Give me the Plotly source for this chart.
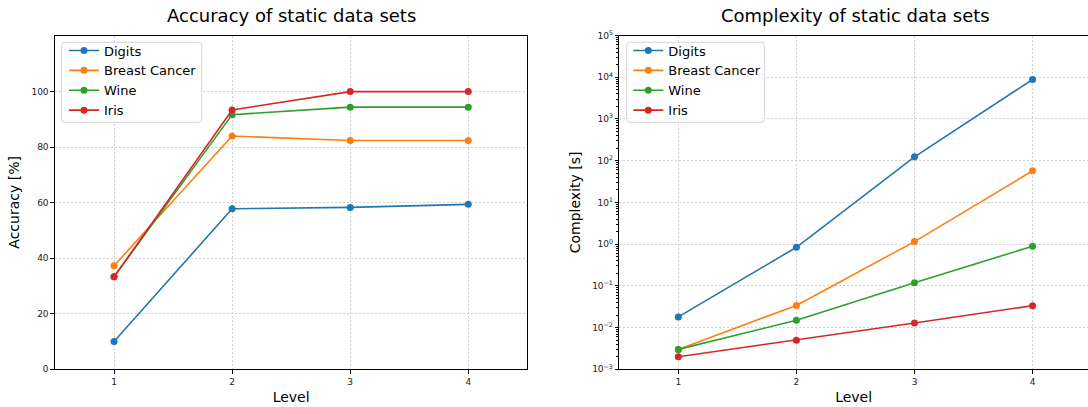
import plotly.graph_objects as go

# Levels of the model
levels = [1, 2, 3, 4]

# Accuracy [%] per data set
acc_digits = [10.0, 57.8, 58.3, 59.4]
acc_breast = [37.3, 84.0, 82.4, 82.4]
acc_wine = [33.3, 91.7, 94.4, 94.4]
acc_iris = [33.3, 93.4, 100.0, 100.0]

# Complexity [s] per data set
cx_digits = [0.018, 0.84, 124.0, 8800.0]
cx_breast = [0.003, 0.034, 1.15, 57.0]
cx_wine = [0.003, 0.015, 0.119, 0.89]
cx_iris = [0.002, 0.005, 0.0129, 0.0335]

names = ["Digits", "Breast Cancer", "Wine", "Iris"]
colors = ["#1f77b4", "#ff7f0e", "#2ca02c", "#d62728"]

acc_tick_vals = [0, 20, 40, 60, 80, 100]
cx_exponents = [-3, -2, -1, 0, 1, 2, 3, 4, 5]
cx_minor = [k * 10.0 ** e for e in cx_exponents[:-1] for k in range(2, 10)]

W, H = 1088, 407
FONT = "DejaVu Sans"

fig = go.Figure()

acc_series = [acc_digits, acc_breast, acc_wine, acc_iris]
cx_series = [cx_digits, cx_breast, cx_wine, cx_iris]

for name, color, ys in zip(names, colors, acc_series):
    fig.add_trace(go.Scatter(
        x=levels, y=ys, name=name, mode="lines+markers",
        line=dict(color=color, width=1.6),
        marker=dict(color=color, size=7),
        xaxis="x", yaxis="y", legend="legend",
    ))

for name, color, ys in zip(names, colors, cx_series):
    fig.add_trace(go.Scatter(
        x=levels, y=ys, name=name, mode="lines+markers",
        line=dict(color=color, width=1.6),
        marker=dict(color=color, size=7),
        xaxis="x2", yaxis="y2", legend="legend2",
    ))

# transparent carrier trace so the minor-tick axis is laid out
fig.add_trace(go.Scatter(
    x=levels, y=cx_digits, mode="markers", marker=dict(opacity=0),
    hoverinfo="skip", showlegend=False, xaxis="x2", yaxis="y3",
))

# pixel geometry of the two panels
y_bot, y_top = 369.3, 35.5
left_l, left_r = 55.0, 527.3
right_l = 619.3
px_per_level = (left_r - left_l) / 4.0
right_r_full = right_l + 4.0 * px_per_level
right_range_hi = 0.5 + (W - right_l) / px_per_level

ydom = [(H - y_bot) / H, (H - y_top) / H]

grid = dict(showgrid=True, gridcolor="#d0d0d0", gridwidth=0.8, griddash="2px,2px")
common_axis = dict(
    showline=True, linecolor="black", linewidth=1.2, automargin=False,
    ticks="outside", ticklen=3.5, tickwidth=1, tickcolor="black",
    tickfont=dict(family=FONT, size=9, color="#222"),
    zeroline=False, **grid,
)


def rounded_box(x0, y0, x1, y1, r=3):
    """SVG path of a rounded rectangle in pixel coordinates (y downward)."""
    X = lambda v: v / W
    Y = lambda v: (H - v) / H
    return (f"M {X(x0 + r)},{Y(y0)} L {X(x1 - r)},{Y(y0)} Q {X(x1)},{Y(y0)} {X(x1)},{Y(y0 + r)} "
            f"L {X(x1)},{Y(y1 - r)} Q {X(x1)},{Y(y1)} {X(x1 - r)},{Y(y1)} "
            f"L {X(x0 + r)},{Y(y1)} Q {X(x0)},{Y(y1)} {X(x0)},{Y(y1 - r)} "
            f"L {X(x0)},{Y(y0 + r)} Q {X(x0)},{Y(y0)} {X(x0 + r)},{Y(y0)} Z")


legend_boxes = [(61.7, 42.3, 201.7, 122.3), (626.7, 42.3, 764.3, 122.3)]
shapes = [dict(type="path", xref="paper", yref="paper", path=rounded_box(*b),
               fillcolor="rgba(255,255,255,0.85)", line=dict(color="#d6d6d6", width=1),
               layer="above") for b in legend_boxes]

legend_style = dict(xanchor="left", yanchor="top", bgcolor="rgba(0,0,0,0)", borderwidth=0,
                    font=dict(family=FONT, size=13), tracegroupgap=0)

fig.update_layout(
    width=W, height=H,
    margin=dict(l=0, r=0, t=0, b=0, autoexpand=False),
    paper_bgcolor="white", plot_bgcolor="white",
    font=dict(family=FONT, color="black"),
    xaxis=dict(domain=[left_l / W, left_r / W], range=[0.5, 4.5],
               tickvals=levels, mirror=True, anchor="y",
               title=dict(text="Level", font=dict(family=FONT, size=14), standoff=6),
               **common_axis),
    yaxis=dict(domain=ydom, range=[0, 120.2], tickvals=acc_tick_vals,
               mirror=True, anchor="x",
               title=dict(text="Accuracy [%]", font=dict(family=FONT, size=14), standoff=8),
               **common_axis),
    xaxis2=dict(domain=[right_l / W, 1.0], range=[0.5, right_range_hi],
                tickvals=levels, mirror=True, anchor="y2",
                title=dict(text="Level", font=dict(family=FONT, size=14), standoff=6),
                **common_axis),
    yaxis2=dict(domain=ydom, type="log", range=[-3, 5],
                tickvals=[10.0 ** e for e in cx_exponents],
                ticktext=["10<sup>%s</sup>" % (str(e).replace("-", "\u2212")) for e in cx_exponents],
                mirror=False, anchor="x2",
                title=dict(text="Complexity [s]", font=dict(family=FONT, size=14), standoff=8),
                **common_axis),
    yaxis3=dict(domain=ydom, type="log", range=[-3, 5], overlaying="y2", anchor="x2",
                side="left", tickvals=cx_minor, showticklabels=False,
                ticks="outside", ticklen=2, tickwidth=0.8, tickcolor="black",
                showgrid=False, showline=False, zeroline=False, automargin=False),
    legend=dict(x=(left_l + 9) / W, y=(H - y_top + 0) / H, **legend_style),
    legend2=dict(x=(right_l + 9) / W, y=(H - y_top + 0) / H, **legend_style),
    shapes=shapes,
    annotations=[
        dict(text="Accuracy of static data sets", x=(left_l + left_r) / 2 / W, y=(H - 16) / H,
             xref="paper", yref="paper", showarrow=False, xanchor="center", yanchor="middle",
             font=dict(family=FONT, size=18)),
        dict(text="Complexity of static data sets", x=(right_l + right_r_full) / 2 / W, y=(H - 16) / H,
             xref="paper", yref="paper", showarrow=False, xanchor="center", yanchor="middle",
             font=dict(family=FONT, size=18)),
    ],
)

fig.write_html("out.html")
